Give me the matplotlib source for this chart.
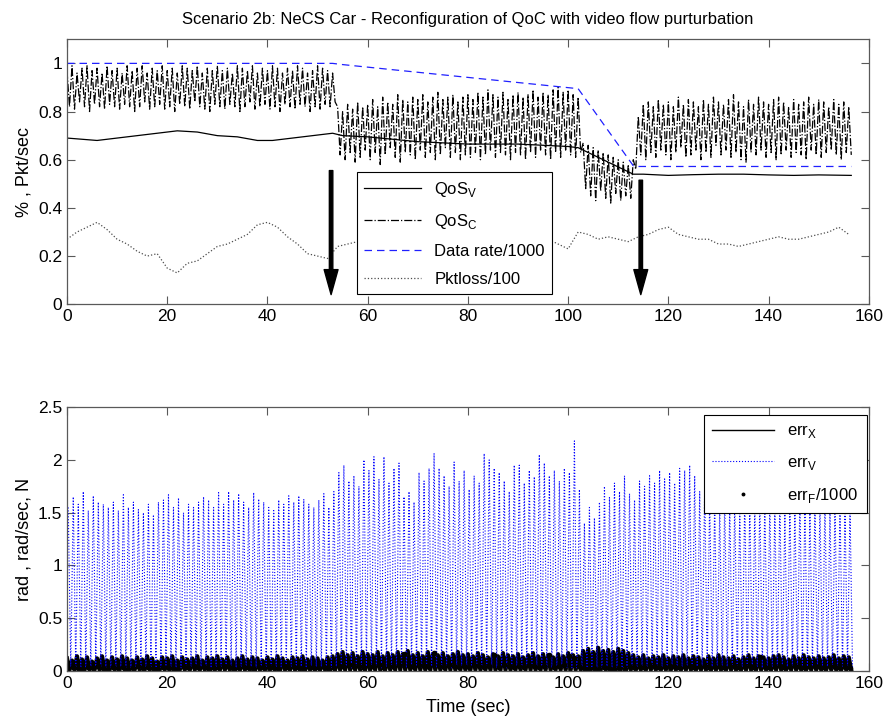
import numpy as np
import matplotlib as mpl
import matplotlib.pyplot as plt

mpl.rcParams['font.family'] = 'Liberation Sans'
mpl.rcParams['mathtext.fontset'] = 'custom'
mpl.rcParams['mathtext.rm'] = 'Liberation Sans'
mpl.rcParams['axes.edgecolor'] = '0.35'
mpl.rcParams['xtick.color'] = '0.35'
mpl.rcParams['ytick.color'] = '0.35'
mpl.rcParams['xtick.labelcolor'] = 'black'
mpl.rcParams['ytick.labelcolor'] = 'black'

# ---- top panel data ----
# QoS_C oscillates every second between a high and a low value
qosc_hi = [0.97, 0.99, 0.96, 0.98, 0.99, 0.97, 0.98, 0.96, 0.99, 0.97,
           0.98, 0.96, 0.99, 0.97, 0.98, 0.99, 0.96, 0.98, 0.97, 0.99,
           0.97, 0.98, 0.96, 0.99, 0.98, 0.97, 0.99, 0.96, 0.98, 0.97,
           0.99, 0.97, 0.98, 0.96, 0.99, 0.98, 0.97, 0.99, 0.96, 0.98,
           0.97, 0.99, 0.98, 0.96, 0.98, 0.97, 0.99, 0.98, 0.96, 0.97,
           0.99, 0.98, 0.97, 0.96,
           0.82, 0.80, 0.83, 0.81, 0.84, 0.82,
           0.83, 0.85, 0.82, 0.86, 0.84, 0.83, 0.87, 0.85, 0.84, 0.86,
           0.85, 0.87, 0.84, 0.86, 0.88, 0.85, 0.86, 0.87, 0.84, 0.86,
           0.87, 0.85, 0.88, 0.86, 0.89, 0.87, 0.86, 0.88, 0.85, 0.87,
           0.88, 0.86, 0.87, 0.89, 0.86, 0.88, 0.87, 0.89, 0.90, 0.88,
           0.89, 0.87, 0.86,
           0.67, 0.66, 0.65, 0.64, 0.63, 0.62, 0.61, 0.60, 0.59, 0.58,
           0.60,
           0.78, 0.83, 0.84, 0.82, 0.85, 0.83,
           0.84, 0.82, 0.86, 0.83, 0.85, 0.84, 0.82, 0.85, 0.83, 0.86,
           0.84, 0.83, 0.85, 0.87, 0.84, 0.82, 0.85, 0.83, 0.86, 0.84,
           0.83, 0.85, 0.86, 0.84, 0.82, 0.85, 0.83, 0.84, 0.86, 0.83,
           0.85, 0.84, 0.82, 0.85, 0.83, 0.84, 0.82]
qosc_lo = [0.82, 0.81, 0.84, 0.82, 0.80, 0.83, 0.82, 0.81, 0.83, 0.82,
           0.81, 0.83, 0.82, 0.80, 0.82, 0.84, 0.81, 0.82, 0.83, 0.81,
           0.82, 0.80, 0.83, 0.82, 0.81, 0.84, 0.82, 0.81, 0.80, 0.83,
           0.82, 0.81, 0.83, 0.82, 0.80, 0.82, 0.84, 0.81, 0.82, 0.83,
           0.81, 0.82, 0.80, 0.83, 0.82, 0.81, 0.83, 0.82, 0.80, 0.82,
           0.81, 0.83, 0.82, 0.84,
           0.62, 0.60, 0.63, 0.59, 0.61, 0.64,
           0.60, 0.63, 0.58, 0.62, 0.65, 0.61, 0.59, 0.63, 0.62, 0.60,
           0.64, 0.61, 0.63, 0.60, 0.62, 0.65, 0.61, 0.63, 0.60, 0.62,
           0.61, 0.63, 0.60, 0.62, 0.64, 0.61, 0.63, 0.62, 0.60, 0.63,
           0.62, 0.60, 0.63, 0.61, 0.64, 0.62, 0.60, 0.63, 0.61, 0.64,
           0.62, 0.61, 0.63,
           0.48, 0.45, 0.43, 0.47, 0.44, 0.42, 0.46, 0.43, 0.45, 0.44,
           0.56,
           0.62, 0.60, 0.63, 0.61, 0.64, 0.62,
           0.60, 0.63, 0.65, 0.61, 0.62, 0.64, 0.60, 0.63, 0.61, 0.66,
           0.62, 0.64, 0.61, 0.63, 0.60, 0.59, 0.63, 0.62, 0.64, 0.61,
           0.63, 0.60, 0.62, 0.64, 0.61, 0.63, 0.62, 0.60, 0.64, 0.62,
           0.61, 0.63, 0.64, 0.62, 0.60, 0.63, 0.62]

qosv_t = [0, 3, 6, 10, 14, 18, 22, 26, 30, 34, 38, 41, 45, 49, 53, 55, 60, 65, 70, 75,
          80, 85, 90, 95, 100, 102, 105, 108, 111, 113, 115, 120, 125, 130, 135, 140,
          145, 150, 156.5]
qosv = [0.69, 0.685, 0.68, 0.69, 0.70, 0.71, 0.72, 0.715, 0.70, 0.695, 0.68, 0.68,
        0.69, 0.70, 0.71, 0.70, 0.695, 0.685, 0.675, 0.67, 0.665, 0.665, 0.665, 0.66,
        0.655, 0.65, 0.62, 0.59, 0.56, 0.54, 0.54, 0.535, 0.538, 0.54, 0.54, 0.537,
        0.535, 0.537, 0.535]

rate_t = [0, 53, 55, 102, 113, 114, 156.5]
rate = [1.0, 1.0, 0.995, 0.895, 0.575, 0.572, 0.572]

# packet loss every 2 s
pktloss = [0.27, 0.30, 0.32, 0.34, 0.31, 0.27, 0.25, 0.22, 0.20, 0.21,
           0.15, 0.13, 0.17, 0.18, 0.21, 0.24, 0.25, 0.27, 0.29, 0.33,
           0.34, 0.32, 0.28, 0.25, 0.21, 0.20, 0.19, 0.24, 0.25, 0.26,
           0.27, 0.26, 0.28, 0.27, 0.29, 0.28, 0.27, 0.29, 0.30, 0.28,
           0.27, 0.29, 0.28, 0.27, 0.26, 0.28, 0.27, 0.26, 0.27, 0.25,
           0.23, 0.30, 0.29, 0.27, 0.28, 0.27, 0.26, 0.28, 0.29, 0.31,
           0.32, 0.29, 0.28, 0.27, 0.27, 0.25, 0.25, 0.24, 0.25, 0.26,
           0.27, 0.28, 0.27, 0.27, 0.28, 0.29, 0.30, 0.32, 0.29]

# ---- bottom panel data ----
errv_peak = [1.55, 1.65, 1.58, 1.70, 1.52, 1.66, 1.60, 1.58, 1.55, 1.60,
             1.52, 1.67, 1.55, 1.60, 1.53, 1.50, 1.58, 1.48, 1.60, 1.62,
             1.67, 1.55, 1.64, 1.50, 1.58, 1.55, 1.60, 1.65, 1.62, 1.55,
             1.69, 1.58, 1.70, 1.62, 1.68, 1.60, 1.55, 1.69, 1.63, 1.60,
             1.55, 1.52, 1.62, 1.58, 1.66, 1.60, 1.66, 1.63, 1.58, 1.55,
             1.62, 1.68, 1.55, 1.70, 1.88, 1.95, 1.80, 1.85, 1.75, 2.00,
             1.90, 2.03, 1.82, 2.03, 1.78, 1.92, 1.97, 1.65, 1.70, 1.60,
             1.88, 1.80, 1.92, 2.06, 1.92, 1.85, 1.75, 1.98, 1.80, 1.90,
             1.72, 1.85, 1.78, 2.06, 2.00, 1.92, 1.88, 1.80, 1.70, 1.95,
             1.95, 1.78, 1.90, 1.84, 2.05, 1.97, 1.85, 1.90, 1.80, 1.92,
             1.88, 2.18, 1.72, 1.40, 1.55, 1.45, 1.60, 1.75, 1.65, 1.78,
             1.70, 1.85, 1.68, 1.62, 1.80, 1.75, 1.85, 1.78, 1.90, 1.82,
             1.88, 1.78, 1.92, 1.90, 1.95, 1.85, 1.70, 1.75, 1.65, 1.60,
             1.55, 1.62, 1.58, 1.60, 1.52, 1.65, 1.58, 1.55, 1.62, 1.60,
             1.58, 1.55, 1.62, 1.50, 1.60, 1.57, 1.65, 1.58, 1.55, 1.60,
             1.58, 1.62, 1.55, 1.60, 1.58, 1.52, 1.55]
errv_base = 0.03

errx_peak = [0.12, 0.10, 0.14, 0.11, 0.13, 0.09, 0.12, 0.14, 0.10, 0.13,
             0.11, 0.14, 0.12, 0.10, 0.13, 0.11, 0.14, 0.12, 0.09, 0.13,
             0.12, 0.14, 0.10, 0.13, 0.11, 0.12, 0.14, 0.10, 0.13, 0.12,
             0.14, 0.11, 0.13, 0.10, 0.12, 0.14, 0.11, 0.13, 0.12, 0.10,
             0.13, 0.11, 0.14, 0.12, 0.10, 0.13, 0.12, 0.14, 0.11, 0.13,
             0.12, 0.10, 0.13, 0.14, 0.16, 0.18, 0.15, 0.17, 0.14, 0.18,
             0.16, 0.15, 0.18, 0.14, 0.17, 0.15, 0.18, 0.16, 0.19, 0.15,
             0.17, 0.14, 0.18, 0.16, 0.15, 0.17, 0.14, 0.16, 0.18, 0.15,
             0.16, 0.14, 0.17, 0.15, 0.13, 0.16, 0.14, 0.17, 0.15, 0.14,
             0.16, 0.13, 0.15, 0.17, 0.14, 0.16, 0.15, 0.13, 0.16, 0.14,
             0.17, 0.15, 0.14, 0.19, 0.21, 0.18, 0.22, 0.19, 0.20, 0.18,
             0.21, 0.19, 0.17, 0.15, 0.13, 0.15, 0.12, 0.14, 0.13, 0.15,
             0.12, 0.14, 0.13, 0.15, 0.12, 0.14, 0.13, 0.11, 0.14, 0.12,
             0.15, 0.13, 0.12, 0.14, 0.11, 0.13, 0.15, 0.12, 0.14, 0.13,
             0.12, 0.14, 0.15, 0.13, 0.11, 0.14, 0.12, 0.15, 0.13, 0.12,
             0.14, 0.12, 0.13, 0.15, 0.12, 0.14, 0.13]
errx_base = 0.01

errF = [0.03, 0.04, 0.03, 0.02, 0.04, 0.03, 0.05, 0.03, 0.02, 0.04,
        0.03, 0.04, 0.02, 0.03, 0.05, 0.03, 0.04, 0.03, 0.02, 0.04,
        0.04, 0.03, 0.02, 0.04, 0.03, 0.05, 0.03, 0.04, 0.02, 0.03,
        0.03, 0.05, 0.04, 0.02, 0.03, 0.04, 0.03, 0.02, 0.04, 0.03,
        0.04, 0.03, 0.02, 0.05, 0.03, 0.04, 0.03, 0.02, 0.04, 0.03,
        0.03, 0.04, 0.02, 0.03, 0.05, 0.04, 0.06, 0.04, 0.05, 0.03,
        0.05, 0.04, 0.06, 0.03, 0.05, 0.04, 0.06, 0.16, 0.05, 0.04,
        0.06, 0.05, 0.04, 0.17, 0.05, 0.04, 0.06, 0.05, 0.04, 0.05,
        0.04, 0.06, 0.05, 0.04, 0.05, 0.15, 0.04, 0.06, 0.05, 0.04,
        0.05, 0.04, 0.06, 0.05, 0.04, 0.05, 0.15, 0.04, 0.05, 0.06,
        0.14, 0.12, 0.05, 0.03, 0.02, 0.03, 0.02, 0.04, 0.03, 0.02,
        0.03, 0.02, 0.04, 0.03, 0.04, 0.03, 0.05, 0.04, 0.03, 0.04,
        0.05, 0.04, 0.03, 0.04, 0.05, 0.03, 0.04, 0.05, 0.03, 0.04,
        0.04, 0.03, 0.05, 0.04, 0.03, 0.04, 0.05, 0.03, 0.13, 0.04,
        0.03, 0.04, 0.05, 0.03, 0.04, 0.05, 0.04, 0.03, 0.04, 0.05,
        0.04, 0.03, 0.05, 0.04, 0.03, 0.04, 0.03]

# sample times (1 s grid)
t = np.arange(len(qosc_hi), dtype=float)
t_loss = np.arange(len(pktloss)) * 2.0


def zigzag(tt, hi, lo):
    # peaks on the grid, valleys half a step later
    lo = np.broadcast_to(lo, len(hi))
    x = np.column_stack([tt, tt + 0.5]).ravel()
    y = np.column_stack([hi, lo]).ravel()
    return x, y


fig = plt.figure(figsize=(8.85, 7.21), dpi=100)
ax1 = fig.add_axes([0.0757, 0.578, 0.906, 0.3675])
ax2 = fig.add_axes([0.0757, 0.0693, 0.906, 0.366])

# ---- top ----
ax1.plot(qosv_t, qosv, color='black', lw=0.9, label=r'QoS$_{\mathrm{V}}$')
xc, yc = zigzag(t, qosc_hi, qosc_lo)
ax1.plot(xc, yc, color='black', lw=0.9, ls='-.', label=r'QoS$_{\mathrm{C}}$')
ax1.plot(rate_t, rate, color='#2020ff', lw=0.9, ls=(0, (6, 4)), label='Data rate/1000')
ax1.plot(t_loss, pktloss, color='0.3', lw=0.9, ls=':', label='Pktloss/100')

for xa, ya in [(52.7, 0.555), (114.5, 0.515)]:
    ax1.annotate('', xy=(xa, 0.04), xytext=(xa, ya),
                 arrowprops=dict(facecolor='black', edgecolor='black', width=2.5,
                                 headwidth=10, headlength=18))

ax1.set_xlim(0, 160)
ax1.set_ylim(0, 1.1)
ax1.set_xticks(range(0, 161, 20))
ax1.set_yticks([0, 0.2, 0.4, 0.6, 0.8, 1])
ax1.set_yticklabels(['0', '0.2', '0.4', '0.6', '0.8', '1'])
ax1.set_ylabel('% , Pkt/sec', fontsize=13)
ax1.set_title('Scenario 2b: NeCS Car - Reconfiguration of QoC with video flow purturbation',
              fontsize=12, pad=11)
leg1 = ax1.legend(loc='upper left', bbox_to_anchor=(0.3616, 0.498), fontsize=12,
                  frameon=True, fancybox=False, framealpha=1, edgecolor='black',
                  handlelength=3.4, borderaxespad=0, labelspacing=0.78,
                  borderpad=0.45)
leg1.get_frame().set_linewidth(0.8)

# ---- bottom ----
xx, yx = zigzag(t, errx_peak, errx_base)
ax2.plot(xx, yx, color='black', lw=3.0, label=r'err$_{\mathrm{X}}$')
xv, yv = zigzag(t + 0.25, errv_peak, errv_base)
ax2.plot(xv, yv, color='blue', lw=0.8, ls=':', label=r'err$_{\mathrm{V}}$')
ax2.plot(t + 0.25, errF, color='black', ls='none', marker='.', ms=6,
         label=r'err$_{\mathrm{F}}$/1000')

ax2.set_xlim(0, 160)
ax2.set_ylim(0, 2.5)
ax2.set_xticks(range(0, 161, 20))
ax2.set_yticks([0, 0.5, 1, 1.5, 2, 2.5])
ax2.set_yticklabels(['0', '0.5', '1', '1.5', '2', '2.5'])
ax2.set_xlabel('Time (sec)', fontsize=13, labelpad=6)
ax2.set_ylabel('rad , rad/sec, N', fontsize=13)
leg2 = ax2.legend(loc='upper right', bbox_to_anchor=(0.9975, 0.970), fontsize=12,
                  frameon=True, fancybox=False, framealpha=1, edgecolor='black',
                  handlelength=3.7, borderaxespad=0, labelspacing=0.85,
                  borderpad=0.5, markerscale=0.6)
leg2.get_frame().set_linewidth(0.8)
leg2.get_lines()[0].set_linewidth(1.0)

for ax in (ax1, ax2):
    ax.tick_params(direction='in', top=True, right=True, length=6, labelsize=12.5,
                   width=0.8)
    for s in ax.spines.values():
        s.set_linewidth(0.9)

fig.savefig('out.png', dpi=100, facecolor='white')
